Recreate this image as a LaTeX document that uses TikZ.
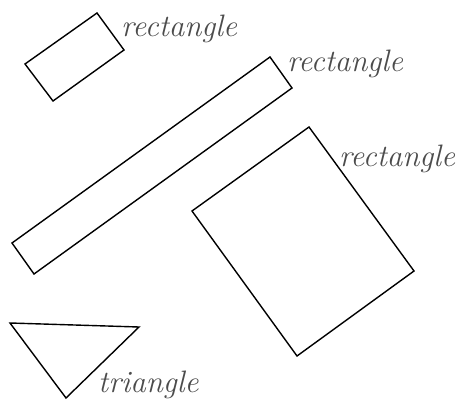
\documentclass[tikz,border=0pt]{standalone}
\tikzset{
  outline/.style={line width=1.4pt,line join=miter},
  shapelabel/.style={anchor=base west,inner sep=0pt,text=black!70,
    font=\fontsize{31}{34}\selectfont\itshape}
}
\begin{document}
\begin{tikzpicture}[x=1pt,y=-1pt]
\useasboundingbox (0,0) rectangle (462,403);
% small rectangle
\draw[outline] (97,13) -- (124,50) -- (53,101) -- (25,64) -- cycle;
\node[shapelabel] (lab1) at (121,37) {rectangle};
% long rectangle
\draw[outline] (270,57) -- (292,88) -- (34,274) -- (12,243) -- cycle;
\node[shapelabel] (lab2) at (287,72) {rectangle};
% big rectangle
\draw[outline] (309,127) -- (414,271) -- (297,356) -- (192,211) -- cycle;
\node[shapelabel] (lab3) at (339,167) {rectangle};
% triangle
\draw[outline] (10,323) -- (139,327) -- (66,398) -- cycle;
\node[shapelabel] (lab4) at (98,392) {triangle};
\end{tikzpicture}
\end{document}
